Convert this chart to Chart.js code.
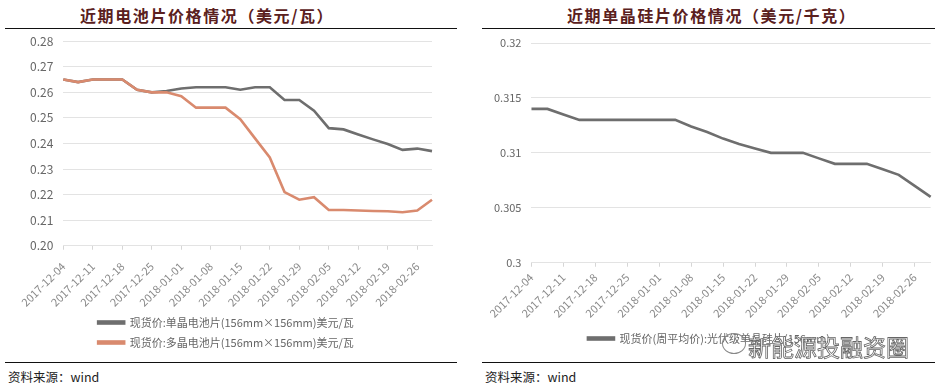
<!DOCTYPE html>
<html>
<head>
<meta charset="utf-8">
<script src="https://cdn.jsdelivr.net/npm/chart.js@4"></script>
<style>
  html, body { margin: 0; padding: 0; background: #fff; }
  body { width: 944px; height: 387px; position: relative; overflow: hidden; font-family: "Noto Sans CJK SC", sans-serif; }
  .title { position: absolute; top: 3px; font-size: 16px; font-weight: 700; color: #5a2020; letter-spacing: 1.6px; white-space: nowrap; }
  .rule { position: absolute; height: 0; border-top: 1.5px solid #111; }
  .src { position: absolute; top: 367px; font-size: 12.5px; color: #222; }
  .box { position: absolute; top: 24px; height: 336px; }
  .mark { position: absolute; left: 748px; top: 329px; font-size: 23px; color: #fff; -webkit-text-stroke: 0.8px #666; }
  .bubble { position: absolute; left: 722px; top: 333px; width: 22px; height: 19px; border: 1px solid #888; border-radius: 50%; }
</style>
</head>
<body>
<div class="title" style="left:80px">近期电池片价格情况（美元/瓦）</div>
<div class="title" style="left:567px">近期单晶硅片价格情况（美元/千克）</div>
<div class="rule" style="left:5px;width:452px;top:28px"></div>
<div class="rule" style="left:482px;width:453px;top:28px"></div>
<div class="box" style="left:0;width:460px"><canvas id="cellChart"></canvas></div>
<div class="box" style="left:470px;width:474px"><canvas id="waferChart"></canvas></div>
<div class="rule" style="left:5px;width:452px;top:362px"></div>
<div class="rule" style="left:482px;width:453px;top:362px"></div>
<div class="src" style="left:8px">资料来源：wind</div>
<div class="src" style="left:485px">资料来源：wind</div>
<div class="bubble"></div>
<div class="mark">新能源投融资圈</div>
<script>
// 日期（每周两个点）
const dates = [
  '2017-12-04','2017-12-07','2017-12-11','2017-12-14','2017-12-18','2017-12-21',
  '2017-12-25','2017-12-28','2018-01-01','2018-01-04','2018-01-08','2018-01-11',
  '2018-01-15','2018-01-18','2018-01-22','2018-01-25','2018-01-29','2018-02-01',
  '2018-02-05','2018-02-08','2018-02-12','2018-02-15','2018-02-19','2018-02-22',
  '2018-02-26','2018-03-01'
];
// 电池片 美元/瓦
const monoCell = [0.265,0.264,0.265,0.265,0.265,0.261,0.260,0.2605,0.2615,0.262,0.262,0.262,
  0.261,0.262,0.262,0.257,0.257,0.2528,0.246,0.2455,0.2435,0.2416,0.2398,0.2375,0.238,0.237];
const polyCell = [0.265,0.264,0.265,0.265,0.265,0.261,0.260,0.260,0.2585,0.254,0.254,0.254,
  0.2495,0.242,0.2345,0.221,0.218,0.219,0.214,0.214,0.2138,0.2136,0.2135,0.2131,0.2138,0.218];
// 单晶硅片 美元/千克
const monoWafer = [0.314,0.314,0.3135,0.313,0.313,0.313,0.313,0.313,0.313,0.313,0.3124,0.3119,
  0.3113,0.3108,0.3104,0.310,0.310,0.310,0.3095,0.309,0.309,0.309,0.3085,0.308,0.307,0.306];

const cellTicks = { min: 0.20, max: 0.28, step: 0.01 };
const waferTicks = { min: 0.30, max: 0.32, step: 0.005 };

const FONT = '"Noto Sans CJK SC", sans-serif';
const GRID = '#e3e3e3';

function xAxis(pad, shrink) {
  return {
    grid: {
      drawOnChartArea: false,
      color: ctx => (ctx.index % 2 === 0 ? '#d6d6d6' : 'rgba(0,0,0,0)'),
      tickLength: 4
    },
    border: { color: GRID },
    // 旋转标签的包围盒偏大，收一点高度
    afterFit: scale => { scale.height -= shrink; },
    ticks: {
      autoSkip: false,
      minRotation: 45,
      maxRotation: 45,
      color: '#8a8a8a',
      font: { family: FONT, size: 11 },
      padding: pad,
      callback: function (v, i) { return i % 2 === 0 ? this.getLabelForValue(v) : ''; }
    }
  };
}

function legendOpts() {
  return {
    position: 'bottom',
    labels: {
      boxWidth: 26, boxHeight: 2, padding: 9,
      color: '#666', font: { family: FONT, size: 11 },
      sort: (a, b) => a.datasetIndex - b.datasetIndex
    }
  };
}

new Chart(document.getElementById('cellChart'), {
  type: 'line',
  data: {
    labels: dates,
    datasets: [
      { label: '现货价:单晶电池片(156mm×156mm)美元/瓦', data: monoCell,
        borderColor: '#6e6e6e', backgroundColor: '#6e6e6e', borderWidth: 2.6, pointRadius: 0, order: 2 },
      { label: '现货价:多晶电池片(156mm×156mm)美元/瓦', data: polyCell,
        borderColor: '#d98a6e', backgroundColor: '#d98a6e', borderWidth: 2.6, pointRadius: 0, order: 1 }
    ]
  },
  options: {
    responsive: true, maintainAspectRatio: false, animation: false,
    layout: { padding: { left: 20, right: 28, top: 4, bottom: 2 } },
    plugins: { legend: legendOpts(), tooltip: { enabled: false } },
    scales: {
      x: xAxis(10, 11),
      y: {
        min: cellTicks.min, max: cellTicks.max,
        grid: { color: GRID, drawTicks: false },
        border: { display: false },
        ticks: { stepSize: cellTicks.step, color: '#666', padding: 10,
          font: { family: FONT, size: 12 }, callback: v => v.toFixed(2) }
      }
    }
  }
});

new Chart(document.getElementById('waferChart'), {
  type: 'line',
  data: {
    labels: dates,
    datasets: [
      { label: '现货价(周平均价):光伏级单晶硅片(156mm)', data: monoWafer,
        borderColor: '#6e6e6e', backgroundColor: '#6e6e6e', borderWidth: 2.6, pointRadius: 0 }
    ]
  },
  options: {
    responsive: true, maintainAspectRatio: false, animation: false,
    layout: { padding: { left: 14, right: 10, top: 19, bottom: 6 } },
    plugins: { legend: legendOpts(), tooltip: { enabled: false } },
    scales: {
      x: xAxis(4, 0),
      y: {
        min: waferTicks.min, max: waferTicks.max,
        grid: { color: GRID, drawTicks: false },
        border: { display: false },
        ticks: { stepSize: waferTicks.step, color: '#666', padding: 10,
          font: { family: FONT, size: 11 }, callback: v => String(+v.toFixed(3)) }
      }
    }
  }
});
</script>
</body>
</html>
